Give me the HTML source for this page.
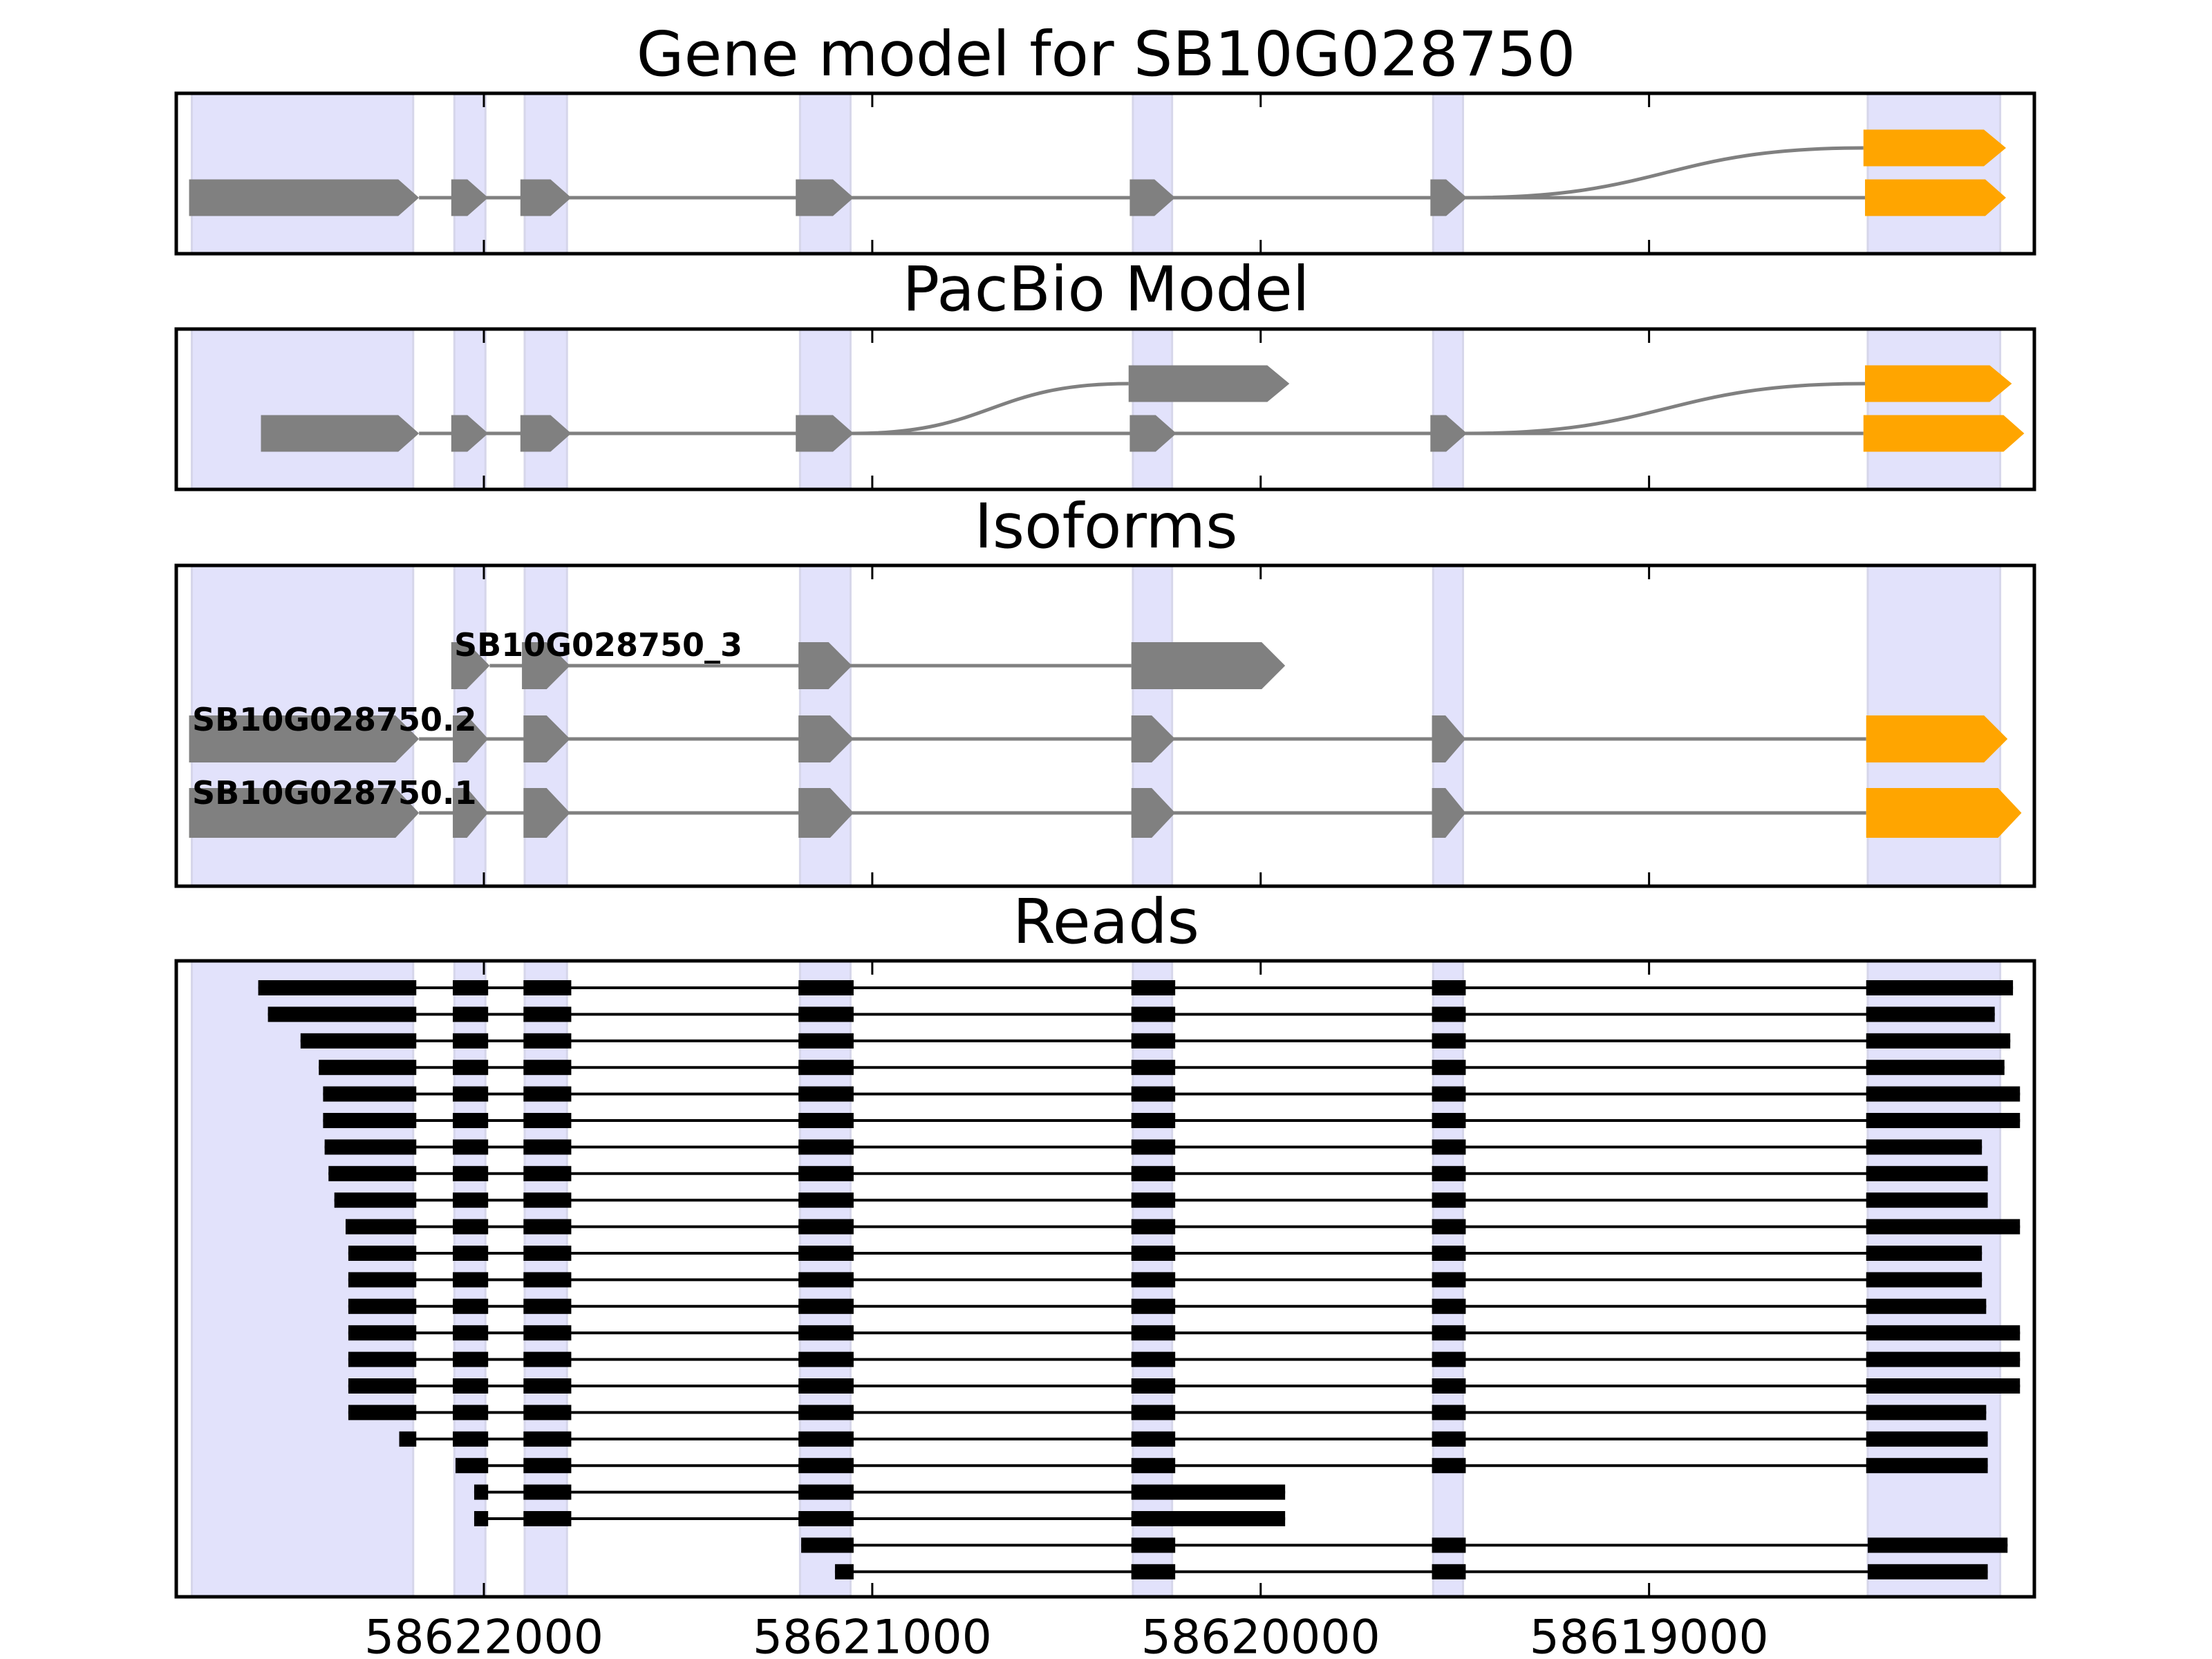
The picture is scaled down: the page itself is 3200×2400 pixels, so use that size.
<!DOCTYPE html>
<html><head><meta charset="utf-8">
<style>html,body{margin:0;padding:0;background:#fff}svg{display:block}</style>
</head><body>
<svg id="chart" xmlns="http://www.w3.org/2000/svg" width="3200" height="2400" viewBox="0 0 3200 2400" font-family="'DejaVu Sans','Liberation Sans',sans-serif">
<rect width="3200" height="2400" fill="#fff"/>
</svg>
<script>
// ---- data (genomic coordinates, bp) ----
const tickValues = [58622000, 58621000, 58620000, 58619000];
const tickLabels = ["58622000", "58621000", "58620000", "58619000"];
const shadeStarts = [58622752, 58622076, 58621895, 58621186, 58620329, 58619556, 58618437];
const shadeEnds   = [58622182, 58621996, 58621786, 58621056, 58620228, 58619479, 58618096];
const geneRow1 = [[58622759,58622167],[58622084,58621989],[58621906,58621775],[58621197,58621048],[58620337,58620220],[58619563,58619469],[58618444,58618081]];
const geneRow2Orange = [58618448,58618081];
const pacRow1 = [[58622574,58622167],[58622084,58621989],[58621906,58621775],[58621197,58621048],[58620337,58620217],[58619563,58619469],[58618448,58618034]];
const pacUpperGray = [58620340,58619926];
const pacUpperOrange = [58618444,58618066];
const iso3 = [[58622084,58621985],[58621902,58621778],[58621190,58621052],[58620333,58619937]];
const iso2 = [[58622759,58622167],[58622080,58621989],[58621898,58621778],[58621190,58621048],[58620333,58620220],[58619559,58619472],[58618441,58618077]];
const iso1 = [[58622759,58622167],[58622080,58621989],[58621898,58621778],[58621190,58621048],[58620333,58620220],[58619559,58619472],[58618441,58618041]];
const isoNames = ["SB10G028750_3", "SB10G028750.2", "SB10G028750.1"];
const readStarts = [58622581,58622556,58622472,58622425,58622414,58622414,58622410,58622400,58622385,58622356,58622349,58622349,58622349,58622349,58622349,58622349,58622349];
const readEnds   = [58618063,58618110,58618070,58618085,58618045,58618045,58618143,58618128,58618128,58618045,58618143,58618143,58618132,58618045,58618045,58618045,58618132];
const innerExons = [[58622080,58621989],[58621898,58621775],[58621190,58621048],[58620333,58620220],[58619559,58619472]];
const extraReads = [
  [[58622218,58622174],[58622080,58621989],[58621898,58621775],[58621190,58621048],[58620333,58620220],[58619559,58619472],[58618441,58618128]],
  [[58622073,58621989],[58621898,58621775],[58621190,58621048],[58620333,58620220],[58619559,58619472],[58618441,58618128]],
  [[58622025,58621989],[58621898,58621775],[58621190,58621048],[58620333,58619937]],
  [[58622025,58621989],[58621898,58621775],[58621190,58621048],[58620333,58619937]],
  [[58621183,58621048],[58620333,58620220],[58619559,58619472],[58618437,58618077]],
  [[58621096,58621048],[58620333,58620220],[58619559,58619472],[58618437,58618128]]
];

const NS="http://www.w3.org/2000/svg";
const svg=document.getElementById('chart');
const AX0=255, AX1=2943, BP0=58622792, BP1=58618008;
function X(bp){return AX0+(BP0-bp)/(BP0-BP1)*(AX1-AX0);}
function el(tag,attrs,parent){const e=document.createElementNS(NS,tag);for(const k in attrs)e.setAttribute(k,attrs[k]);(parent||svg).appendChild(e);return e;}

const panels=[{t:"Gene model for SB10G028750",ty:78,y0:135,y1:367,n:'gene-model-panel'},
{t:"PacBio Model",ty:418,y0:476,y1:708,n:'pacbio-panel'},
{t:"Isoforms",ty:761,y0:818,y1:1282,n:'isoforms-panel'},
{t:"Reads",ty:1333,y0:1390,y1:2310,n:'reads-panel'}];
const groups=[];
panels.forEach(p=>{
  const g=el('g',{});
  
  
  groups.push(g);
  for(let i=0;i<shadeStarts.length;i++){
    const x0=X(shadeStarts[i]),x1=X(shadeEnds[i]);
    const r=el('rect',{x:x0,y:p.y0,width:x1-x0,height:p.y1-p.y0,fill:'#e2e2fb',stroke:'#d6d6ea','stroke-width':3},g);
    
    
  }
  const t=el('text',{x:1600,y:p.ty,'text-anchor':'middle','dominant-baseline':'central','font-size':89,fill:'#000'},g);
  t.textContent=p.t;
  
  
});

function arrowShape(g,s,e,yc,h,color,tip){
  const x0=X(s),x1=X(e);tip=Math.min(tip,(x1-x0)*0.6);
  const p=el('polygon',{points:`${x0},${yc-h/2} ${x1-tip},${yc-h/2} ${x1},${yc} ${x1-tip},${yc+h/2} ${x0},${yc+h/2}`,fill:color},g);
  
  
}
function line(g,x0,y0,x1,y1,c,w){const l=el('line',{x1:x0,y1:y0,x2:x1,y2:y1,stroke:c,'stroke-width':w},g);
  
  }
function curve(g,bpA,yA,bpB,yB){const a=X(bpA),b=X(bpB),m=(a+b)/2;
  const c=el('path',{d:`M${a},${yA} C${m},${yA} ${m},${yB} ${b},${yB}`,fill:'none',stroke:'#808080','stroke-width':5},g);
  
  }
function transcript(g,exons,yc,h,tip,lastOrange){
  line(g,X(exons[0][1]),yc,X(exons[exons.length-1][0]),yc,'#808080',5);
  exons.forEach((ex,i)=>arrowShape(g,ex[0],ex[1],yc,h,(lastOrange&&i===exons.length-1)?'#ffa500':'#808080',tip));
}
transcript(groups[0],geneRow1,286,53,30,true);
curve(groups[0],geneRow1[5][1],286,geneRow2Orange[0],214);
arrowShape(groups[0],geneRow2Orange[0],geneRow2Orange[1],214,53,'#ffa500',32);
transcript(groups[1],pacRow1,627,53,30,true);
curve(groups[1],pacRow1[3][1],627,pacUpperGray[0],555);
arrowShape(groups[1],pacUpperGray[0],pacUpperGray[1],555,53,'#808080',32);
curve(groups[1],pacRow1[5][1],627,pacUpperOrange[0],555);
arrowShape(groups[1],pacUpperOrange[0],pacUpperOrange[1],555,53,'#ffa500',32);
const isoRows=[iso3,iso2,iso1], isoY=[963,1069,1176], isoH=[68,68,72];
isoRows.forEach((r,i)=>transcript(groups[2],r,isoY[i],isoH[i],34,i>0));
const labelX=[657,278,278], labelY=[933,1041,1147];
isoNames.forEach((n,i)=>{const t=el('text',{x:labelX[i],y:labelY[i],'dominant-baseline':'central','font-size':46,'font-weight':'bold',fill:'#000'},groups[2]);t.textContent=n;
  
  });
const allReads=[];
readStarts.forEach((s,i)=>{allReads.push([[s,58622174]].concat(innerExons).concat([[58618441,readEnds[i]]]));});
extraReads.forEach(r=>allReads.push(r));
allReads.forEach((r,i)=>{
  const y=1429+i*38.4;
  const g=el('g',{},groups[3]);
  
  
  line(g,X(r[0][0]),y,X(r[r.length-1][1]),y,'#000',4);
  r.forEach(ex=>{const b=el('rect',{x:X(ex[0]),y:y-11,width:X(ex[1])-X(ex[0]),height:22,fill:'#000'},g);
    
    });
});
panels.forEach((p,pi)=>{
  tickValues.forEach(v=>{const x=X(v);
    line(groups[pi],x,p.y0,x,p.y0+20,'#000',3);
    line(groups[pi],x,p.y1,x,p.y1-20,'#000',3);});
  const f=el('rect',{x:AX0,y:p.y0,width:AX1-AX0,height:p.y1-p.y0,fill:'none',stroke:'#000','stroke-width':5},groups[pi]);
  
  
});
tickValues.forEach((v,i)=>{const t=el('text',{x:X(v),y:2369,'text-anchor':'middle','dominant-baseline':'central','font-size':68,fill:'#000'});
  t.textContent=tickLabels[i];
  
  });
</script>
</body></html>
